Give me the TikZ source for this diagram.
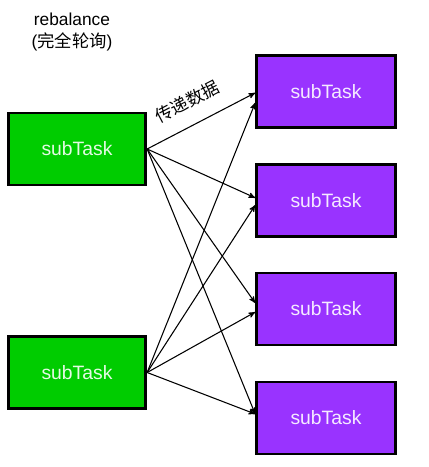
\documentclass[tikz,border=0pt]{standalone}
\usepackage{fontspec}
\setmainfont{Liberation Sans}
\newfontfamily\cjk{Noto Sans CJK SC}
\usepackage{tikz}
\usetikzlibrary{shapes,arrows}
\definecolor{srcgreen}{HTML}{00CC00}
\definecolor{dstpurple}{HTML}{9933FF}
\tikzstyle{srcbox} = [rectangle, minimum width=103pt, minimum height=54pt, text centered, draw=black, line width=2.2pt, fill=srcgreen, text=srcgreen!10, font=\fontsize{14.5pt}{16pt}\selectfont]
\tikzstyle{dstbox} = [rectangle, minimum width=104pt, minimum height=54pt, text centered, draw=black, line width=2.2pt, fill=dstpurple, text=dstpurple!10, font=\fontsize{14.5pt}{16pt}\selectfont]
\tikzstyle{arrow} = [line width=0.8pt,->,>=stealth']
\begin{document}
\begin{tikzpicture} [x=0.75pt, y=-0.75pt]
        \useasboundingbox (0,0) rectangle (428,467);
        \node (note) [align=center, font=\fontsize{13pt}{16pt}\selectfont] at (72,32) {rebalance\\({\cjk 完全轮询})};
        \node (src1) [srcbox] at (77,149) {subTask};
        \node (src2) [srcbox] at (77,372.5) {subTask};
        \node (dst1) [dstbox] at (326,91.5) {subTask};
        \node (dst2) [dstbox] at (326,200.5) {subTask};
        \node (dst3) [dstbox] at (326,309) {subTask};
        \node (dst4) [dstbox] at (326,418) {subTask};
        \draw [arrow] (src1.east) -- node [sloped, above=8pt, pos=0.47, font=\cjk\fontsize{13pt}{15pt}\selectfont] {传递数据} ([yshift=-1pt]dst1.west);
        \draw [arrow] (src1.east) -- ([yshift=2pt]dst2.west);
        \draw [arrow] (src1.east) -- ([yshift=4.5pt]dst3.west);
        \draw [arrow] (src1.east) -- ([yshift=3pt]dst4.west);
        \draw [arrow] (src2.east) -- ([yshift=-8.5pt]dst1.west);
        \draw [arrow] (src2.east) -- ([yshift=-3.5pt]dst2.west);
        \draw [arrow] (src2.east) -- ([yshift=-2.3pt]dst3.west);
        \draw [arrow] (src2.east) -- ([yshift=3pt]dst4.west);
\end{tikzpicture}
\end{document}
